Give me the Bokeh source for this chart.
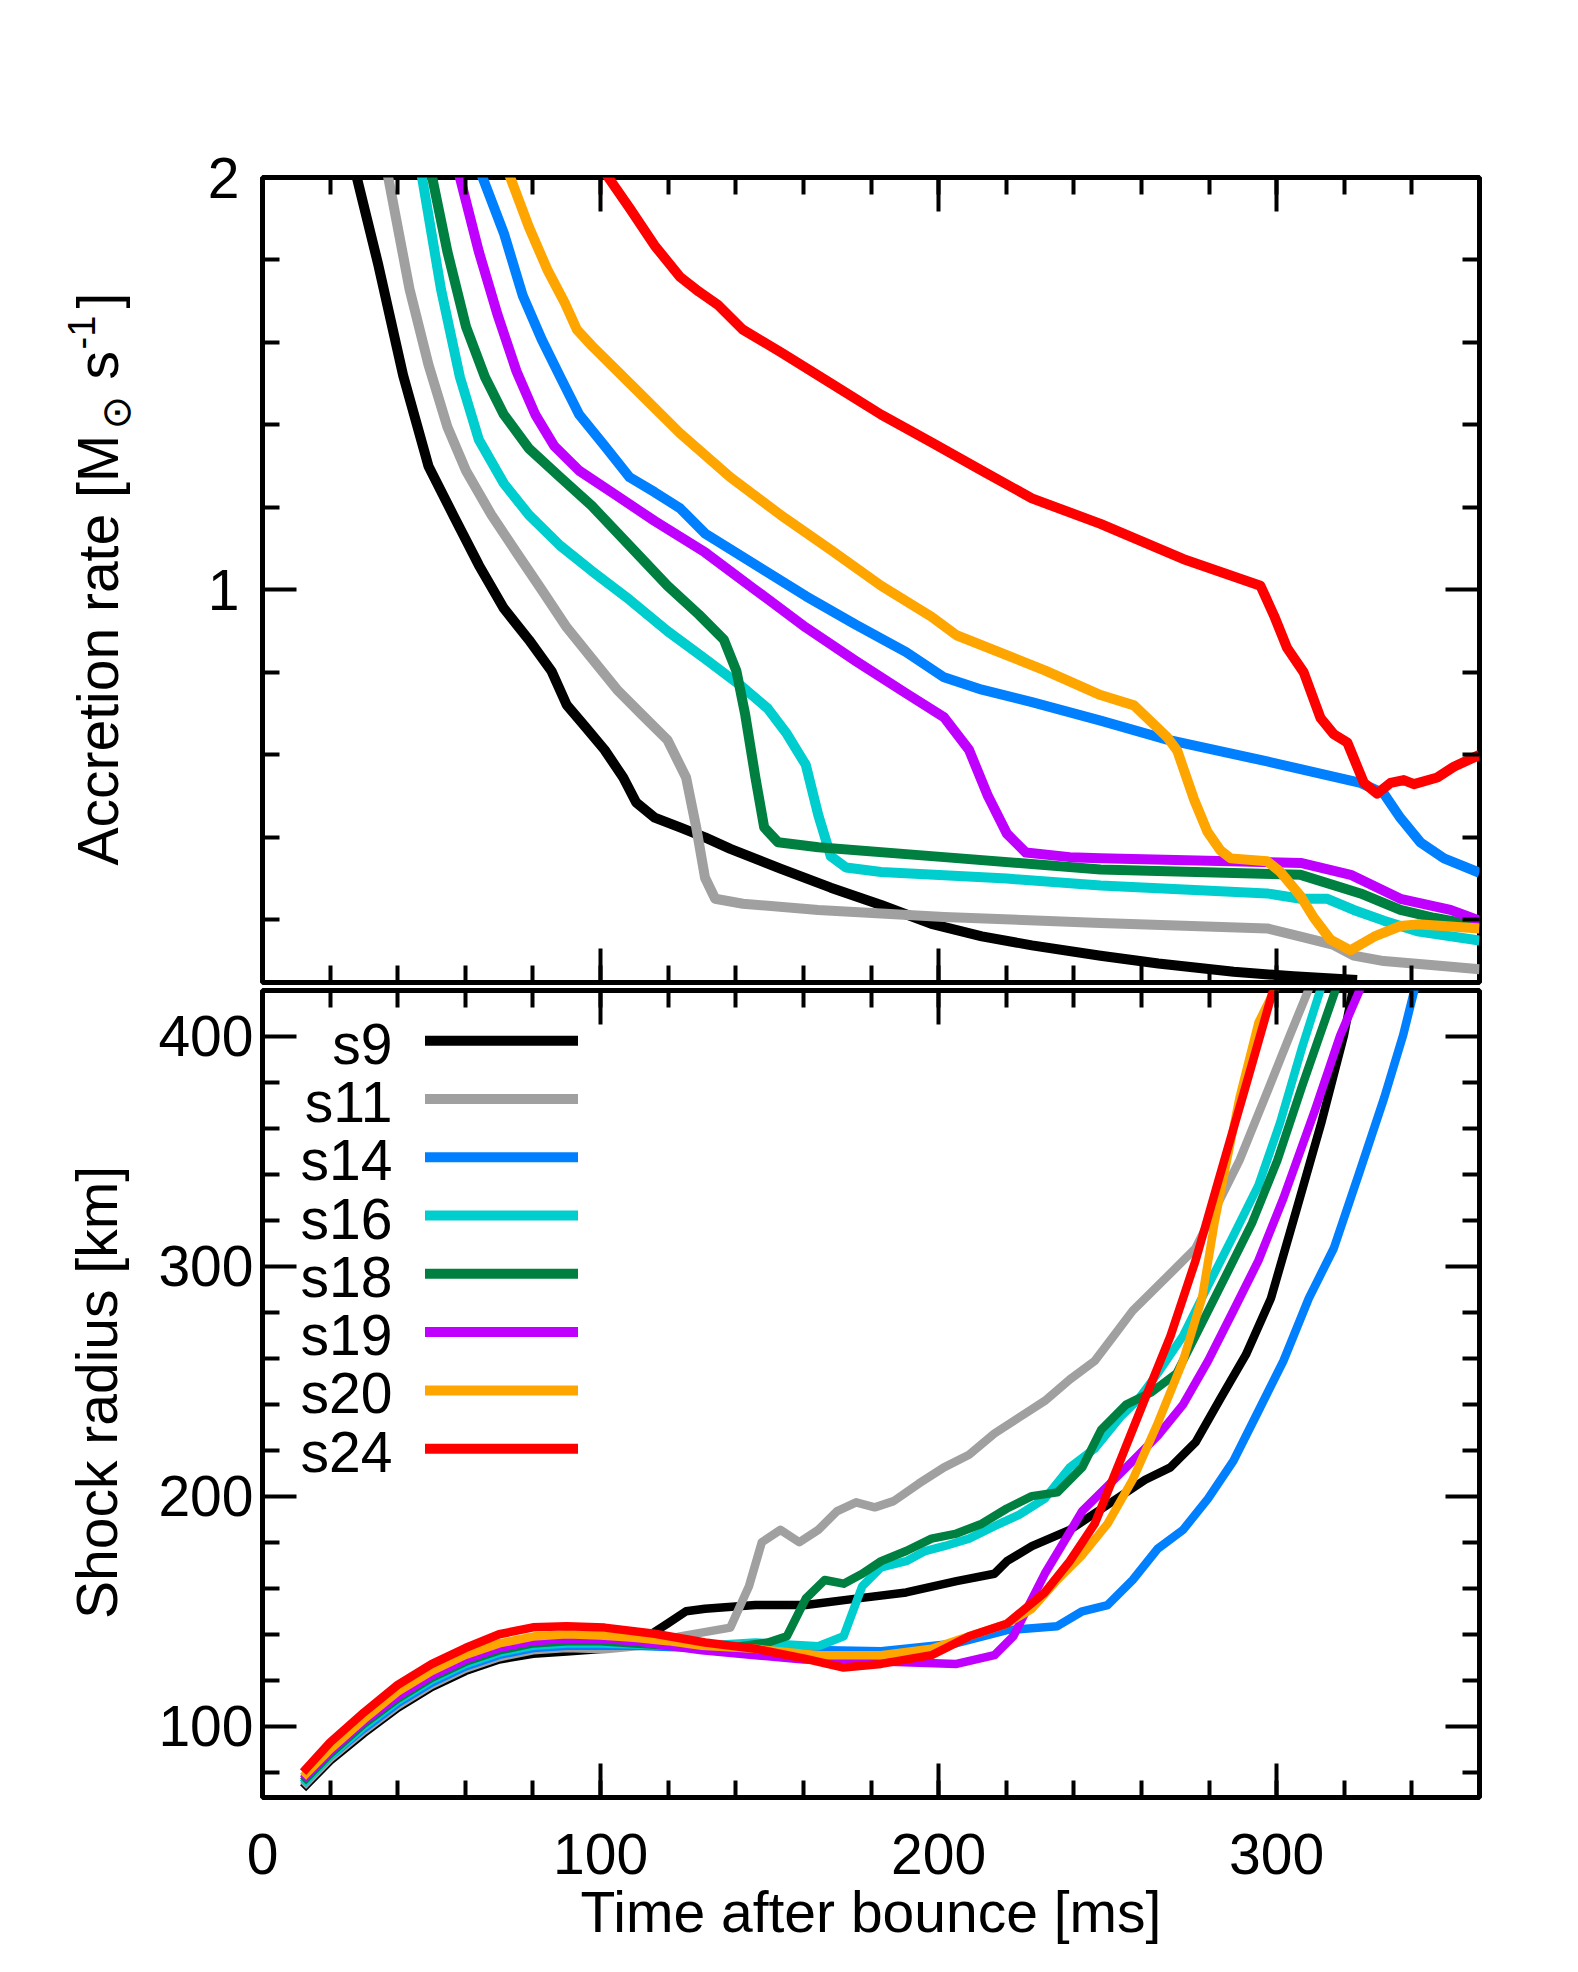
import math
from bokeh.plotting import figure
from bokeh.models import Range1d, LinearAxis, FixedTicker, ColumnDataSource, CustomLabelingPolicy
from bokeh.layouts import column, row
from bokeh.embed import file_html
from bokeh.resources import INLINE
from bokeh.core.properties import value

# ---------------- data ----------------
names = ["s9", "s11", "s14", "s16", "s18", "s19", "s20", "s24"]
colors = ["#000000", "#a0a0a0", "#0080ff", "#00cdcd", "#008040", "#c000ff", "#ffa500", "#ff0000"]

# Accretion rate [Msun/s] vs time after bounce [ms]
acc_s9_x = [24.3, 27.9, 34.2, 41.6, 49.1, 56.5, 64.0, 71.4, 78.8, 85.5, 90.0, 95.6, 101.2, 106.7, 110.5, 116.0, 123.5, 130.9, 138.4, 153.2, 168.1, 183.0, 197.9, 212.8, 227.6, 247.9, 265.0, 287.3, 305.0, 323.8]
acc_s9_y = [2.12, 2.0, 1.79, 1.52, 1.30, 1.18, 1.06, 0.955, 0.879, 0.803, 0.721, 0.667, 0.612, 0.545, 0.485, 0.448, 0.424, 0.400, 0.372, 0.324, 0.278, 0.236, 0.190, 0.160, 0.138, 0.113, 0.094, 0.074, 0.063, 0.054]

acc_s11_x = [34.9, 37.2, 43.5, 49.1, 54.7, 60.2, 67.7, 75.1, 82.6, 90.0, 97.4, 104.9, 112.3, 119.8, 125.3, 128.3, 130.9, 133.9, 142.1, 164.4, 201.6, 247.9, 297.2, 307.1, 316.9, 322.8, 331.7, 346.5, 360.0]
acc_s11_y = [2.1, 2.0, 1.729, 1.546, 1.395, 1.289, 1.182, 1.091, 1.0, 0.909, 0.834, 0.758, 0.697, 0.636, 0.545, 0.424, 0.302, 0.251, 0.239, 0.224, 0.207, 0.192, 0.179, 0.159, 0.139, 0.113, 0.100, 0.090, 0.080]

acc_s14_x = [60.4, 65.1, 71.4, 77.0, 82.6, 88.1, 93.7, 101.2, 108.6, 116.0, 123.5, 130.9, 145.8, 160.7, 175.6, 190.4, 201.6, 212.8, 227.6, 247.9, 267.6, 297.2, 324.8, 331.7, 336.6, 342.5, 349.5, 360.0]
acc_s14_y = [2.1, 2.0, 1.865, 1.713, 1.607, 1.516, 1.425, 1.349, 1.273, 1.237, 1.198, 1.137, 1.061, 0.985, 0.915, 0.849, 0.788, 0.758, 0.728, 0.683, 0.637, 0.584, 0.532, 0.506, 0.447, 0.388, 0.349, 0.314]

acc_s16_x = [45.1, 47.2, 52.8, 58.4, 64.0, 71.4, 78.8, 88.1, 97.4, 108.6, 119.8, 130.9, 142.1, 149.5, 155.1, 160.7, 164.4, 168.1, 172.6, 183.0, 220.2, 247.9, 297.2, 307.1, 315.0, 322.8, 331.7, 341.6, 360.0]
acc_s16_y = [2.1, 2.0, 1.729, 1.516, 1.364, 1.258, 1.182, 1.107, 1.046, 0.976, 0.900, 0.833, 0.764, 0.712, 0.651, 0.576, 0.454, 0.354, 0.327, 0.316, 0.300, 0.283, 0.264, 0.251, 0.251, 0.224, 0.198, 0.172, 0.150]

acc_s18_x = [47.7, 50.2, 54.7, 60.2, 65.8, 71.4, 78.8, 88.1, 97.4, 108.6, 119.8, 129.1, 136.5, 140.2, 142.8, 145.8, 148.4, 152.5, 164.4, 201.6, 247.9, 307.1, 324.8, 336.6, 346.5, 360.0]
acc_s18_y = [2.1, 2.0, 1.820, 1.638, 1.516, 1.425, 1.343, 1.273, 1.204, 1.107, 1.010, 0.940, 0.879, 0.803, 0.697, 0.545, 0.424, 0.388, 0.376, 0.352, 0.322, 0.309, 0.264, 0.224, 0.205, 0.185]

acc_s19_x = [55.3, 58.4, 64.0, 69.5, 75.1, 80.7, 86.3, 93.7, 104.9, 116.0, 130.9, 145.8, 160.7, 175.6, 190.4, 201.6, 209.0, 214.6, 220.2, 225.8, 238.8, 247.9, 307.1, 321.9, 336.6, 351.4, 360.0]
acc_s19_y = [2.1, 2.0, 1.820, 1.668, 1.531, 1.425, 1.349, 1.289, 1.228, 1.167, 1.091, 1.000, 0.909, 0.827, 0.749, 0.691, 0.612, 0.500, 0.409, 0.363, 0.352, 0.349, 0.338, 0.309, 0.251, 0.224, 0.198]

acc_s20_x = [68.7, 73.3, 78.8, 84.4, 89.3, 93.0, 97.4, 104.9, 112.3, 123.5, 138.4, 153.2, 168.1, 183.0, 197.9, 205.3, 231.4, 247.9, 257.8, 267.6, 270.6, 275.5, 279.5, 283.4, 286.4, 297.2, 301.1, 307.1, 311.0, 315.9, 321.8, 328.8, 336.6, 341.6, 360.0]
acc_s20_y = [2.1, 2.0, 1.880, 1.774, 1.698, 1.631, 1.592, 1.531, 1.471, 1.380, 1.273, 1.182, 1.097, 1.010, 0.935, 0.890, 0.805, 0.745, 0.720, 0.643, 0.610, 0.493, 0.414, 0.368, 0.349, 0.342, 0.316, 0.257, 0.205, 0.152, 0.126, 0.159, 0.185, 0.189, 0.179]

acc_s24_x = [97.2, 102.3, 108.6, 116.0, 123.5, 129.1, 134.6, 142.1, 153.2, 168.1, 183.0, 197.9, 212.8, 227.6, 247.9, 272.3, 295.2, 299.2, 303.1, 308.0, 313.0, 316.9, 320.9, 325.8, 329.7, 333.7, 337.6, 340.6, 347.5, 352.4, 360.0]
acc_s24_y = [2.06, 2.0, 1.926, 1.835, 1.759, 1.723, 1.692, 1.631, 1.577, 1.501, 1.425, 1.358, 1.289, 1.222, 1.160, 1.075, 1.010, 0.938, 0.859, 0.800, 0.689, 0.650, 0.630, 0.532, 0.506, 0.532, 0.539, 0.529, 0.545, 0.571, 0.600]

# Shock radius [km] vs time after bounce [ms]
rsh_s9_x = [12, 20, 30, 40, 50, 60, 70, 80, 90, 101.2, 112.3, 119.8, 125.3, 130.9, 145.8, 160.7, 175.6, 190.4, 205.3, 216.5, 220.2, 227.6, 238.8, 250.0, 261.1, 268.6, 276.0, 283.4, 290.9, 298.3, 305.8, 313.2, 319.9, 322.5, 325.0]
rsh_s9_y = [73, 85, 97, 108, 117, 124, 129, 131.5, 132.5, 133.7, 137.5, 144.6, 150.0, 151.1, 152.7, 152.7, 155.5, 158.2, 163.1, 166.3, 171.8, 178.3, 185.4, 196.3, 207.2, 212.6, 223.5, 242.6, 261.6, 286.1, 324.3, 362.4, 400.5, 420.0, 432.0]

rsh_s11_x = [12, 20, 30, 40, 50, 60, 70, 80, 90, 101.2, 112.0, 123.5, 138.4, 143.9, 147.7, 153.2, 158.8, 164.4, 170.0, 175.6, 181.1, 186.7, 194.2, 201.6, 209.0, 216.5, 223.9, 231.4, 238.8, 246.2, 251.8, 257.4, 263.0, 268.6, 276.0, 281.6, 289.0, 296.5, 303.9, 309.5, 312.0]
rsh_s11_y = [74, 86, 98, 109, 118, 125, 130, 133, 134, 133.5, 135, 139.1, 142.9, 160.9, 180.0, 185.4, 180.0, 185.4, 193.6, 197.4, 195.2, 197.9, 205.6, 212.6, 218.1, 227.3, 234.4, 241.5, 250.8, 258.9, 269.8, 280.7, 288.9, 297.0, 307.9, 324.3, 346.1, 373.3, 400.5, 420.6, 432.0]

rsh_s14_x = [12, 20, 30, 40, 50, 60, 70, 80, 90, 100, 110, 120, 130, 145.8, 183.0, 205.0, 220.2, 235.1, 242.5, 250.0, 257.4, 264.8, 272.3, 279.7, 287.2, 294.6, 302.0, 309.5, 316.9, 324.4, 331.8, 337.4, 340.8, 343.0]
rsh_s14_y = [75, 87, 99, 110, 119, 126, 131, 134, 135, 135, 135, 134.5, 134, 133.7, 132.6, 136, 141.8, 143.5, 150.0, 152.7, 163.6, 177.2, 185.4, 199.0, 215.4, 237.1, 258.9, 286.1, 307.9, 340.6, 373.3, 400.5, 420.6, 430.0]

rsh_s16_x = [12, 20, 30, 40, 50, 60, 70, 80, 90, 100, 110, 120, 130, 145.8, 164.4, 171.9, 177.4, 183.0, 190.4, 196.0, 201.6, 209.0, 216.5, 223.9, 231.4, 238.8, 246.2, 253.7, 259.3, 264.8, 272.3, 279.7, 287.2, 294.6, 301.0, 307.5, 313.0, 316.0]
rsh_s16_y = [75, 87, 100, 111, 120, 127, 132, 135, 136, 136, 135.5, 135, 135, 136.4, 134.8, 139.1, 160.9, 169.1, 171.8, 176.2, 178.3, 181.6, 187.0, 192.0, 199.0, 212.6, 220.8, 234.4, 242.6, 253.5, 269.8, 291.6, 313.4, 335.2, 362.4, 395.1, 420.6, 432.0]

rsh_s18_x = [12, 20, 30, 40, 50, 60, 70, 80, 90, 100, 110, 120, 130, 140, 149.5, 155.1, 160.7, 166.3, 171.9, 177.4, 183.0, 190.4, 197.9, 205.3, 212.8, 220.2, 227.6, 235.1, 242.5, 248.1, 255.5, 263.0, 270.4, 277.9, 285.3, 292.7, 300.2, 307.6, 317.5, 320.0]
rsh_s18_y = [76, 88, 101, 112, 121, 128, 133, 136, 137, 137, 136, 135, 134.5, 134.5, 136.4, 139.1, 155.5, 163.6, 162.0, 166.3, 171.8, 176.2, 181.6, 183.8, 188.1, 194.7, 200.1, 201.7, 212.6, 229.0, 239.9, 245.3, 253.5, 275.3, 297.0, 318.8, 346.1, 378.7, 420.6, 432.0]

rsh_s19_x = [12, 20, 30, 40, 50, 60, 70, 80, 90, 100, 110, 120, 130, 145.8, 160.0, 183.0, 205.3, 216.5, 222.1, 225.8, 231.4, 237.0, 242.5, 250.0, 257.4, 264.8, 272.3, 279.7, 287.2, 294.6, 302.0, 311.3, 318.8, 324.5, 327.0]
rsh_s19_y = [77, 89, 102, 113, 122, 129, 134, 137, 138, 138, 137, 135, 133, 130.9, 129, 128.2, 127.1, 130.9, 139.1, 150.0, 166.3, 180.0, 193.6, 204.5, 215.4, 226.3, 239.9, 258.9, 280.7, 302.5, 329.7, 367.8, 400.5, 420.0, 430.0]

rsh_s20_x = [12, 20, 30, 40, 50, 60, 70, 80, 90, 100, 110, 120, 130, 145.8, 164.4, 183.0, 197.9, 209.0, 220.2, 227.6, 235.1, 242.5, 250.0, 257.4, 264.8, 272.3, 277.9, 281.6, 285.3, 289.0, 294.6, 299.5, 301.5]
rsh_s20_y = [78, 90, 103, 115, 124, 131, 136, 139, 140, 139.5, 138.5, 137, 135, 133.7, 130.9, 130.9, 133.7, 139.1, 144.6, 151.1, 163.6, 174.5, 188.1, 207.2, 231.7, 258.9, 286.1, 318.8, 346.1, 373.3, 406.0, 420.6, 428.0]

rsh_s24_x = [12, 20, 30, 40, 50, 60, 70, 80, 90, 101.2, 116.0, 130.9, 145.8, 160.7, 171.9, 183.0, 197.9, 209.0, 220.2, 231.4, 238.8, 246.2, 253.7, 261.1, 268.6, 276.0, 283.4, 290.9, 298.3, 300.5]
rsh_s24_y = [80, 93, 106, 118, 127, 134, 140, 143, 143.5, 142.9, 140.2, 136.4, 133.7, 129.3, 125.5, 127.1, 130.9, 139.1, 144.6, 158.2, 171.8, 188.1, 215.4, 242.6, 269.8, 302.5, 340.6, 378.7, 416.8, 428.0]

x_major = [0, 100, 200, 300]
x_minor = [v for v in range(20, 360, 20)]
acc_major = [1, 2]
acc_minor = [0.2, 0.4, 0.6, 0.8, 1.2, 1.4, 1.6, 1.8]
rsh_major = [100, 200, 300, 400]
rsh_minor = [v for v in range(80, 420, 20) if v % 100 != 0]

acc_series = [(acc_s9_x, acc_s9_y), (acc_s11_x, acc_s11_y), (acc_s14_x, acc_s14_y), (acc_s16_x, acc_s16_y),
              (acc_s18_x, acc_s18_y), (acc_s19_x, acc_s19_y), (acc_s20_x, acc_s20_y), (acc_s24_x, acc_s24_y)]
rsh_series = [(rsh_s9_x, rsh_s9_y), (rsh_s11_x, rsh_s11_y), (rsh_s14_x, rsh_s14_y), (rsh_s16_x, rsh_s16_y),
              (rsh_s18_x, rsh_s18_y), (rsh_s19_x, rsh_s19_y), (rsh_s20_x, rsh_s20_y), (rsh_s24_x, rsh_s24_y)]

# ---------------- layout ----------------
FONT = "Liberation Sans"
FS = "57px"
LW = 150            # width of the y-label strip
W = 1410            # width of the plot column
PL = 262            # page x of frame left
ML = PL - LW
FW = 1217
MR = W - ML - FW
MT = 177
FH1 = 809
H1 = MT + FH1
FH2 = 811
MB = 175
H2 = FH2 + MB
HT = H1 + H2

X0, X1 = 0, 360
Y1A, Y1B = 0.048, 2.0
Y2A, Y2B = 69.0, 420.0
PT2 = H1


def fx(px):
    return X0 + (px - PL) * (X1 - X0) / FW


def fy2(py):
    return Y2B - (py - PT2) * (Y2B - Y2A) / FH2


shared_x = Range1d(X0, X1)
hide_all = CustomLabelingPolicy(code="for (const i of indices) { indices.unset(i) }\nreturn indices")


def make_fig(h, yr, mt, mb):
    p = figure(width=W, height=h, x_range=shared_x, y_range=yr,
               output_backend="svg", toolbar_location=None,
               x_axis_location=None, y_axis_location=None,
               min_border_left=ML, min_border_right=MR,
               min_border_top=mt, min_border_bottom=mb)
    p.grid.visible = False
    p.outline_line_color = "black"
    p.outline_line_width = 5
    p.background_fill_color = "white"
    p.border_fill_color = "white"
    return p


def add_axis(p, side, major, minor, labels, standoff):
    ax = LinearAxis(ticker=FixedTicker(ticks=major, minor_ticks=minor))
    ax.axis_line_color = None
    ax.major_tick_in = 34
    ax.major_tick_out = 0
    ax.minor_tick_in = 17
    ax.minor_tick_out = 0
    ax.major_tick_line_width = 4
    ax.minor_tick_line_width = 4
    ax.major_tick_line_color = "black"
    ax.minor_tick_line_color = "black"
    if labels:
        ax.major_label_overrides = {v: str(v) for v in major}
        ax.major_label_text_font = FONT
        ax.major_label_text_font_size = FS
        ax.major_label_text_color = "black"
        ax.major_label_standoff = standoff
    else:
        ax.major_label_policy = hide_all
        ax.major_label_text_font_size = "1px"
        ax.major_label_standoff = 0
    p.add_layout(ax, side)
    return ax


# top panel: accretion rate
p1 = make_fig(H1, Range1d(Y1A, Y1B), MT, 0)
add_axis(p1, "left", acc_major, acc_minor, True, 23)
add_axis(p1, "right", acc_major, acc_minor, False, 0)
add_axis(p1, "above", x_major, x_minor, False, 0)
add_axis(p1, "below", x_major, x_minor, False, 0)

for (xs, ys), c in zip(acc_series, colors):
    p1.line(xs, ys, line_color=c, line_width=10, line_join="round")

# bottom panel: shock radius
p2 = make_fig(H2, Range1d(Y2A, Y2B), 0, MB)
add_axis(p2, "left", rsh_major, rsh_minor, True, 9)
add_axis(p2, "right", rsh_major, rsh_minor, False, 0)
add_axis(p2, "above", x_major, x_minor, False, 0)
xb = add_axis(p2, "below", x_major, x_minor, True, 36)
xb.axis_label = "Time after bounce [ms]"
xb.axis_label_text_font = FONT
xb.axis_label_text_font_size = FS
xb.axis_label_text_font_style = "normal"
xb.axis_label_text_color = "black"
xb.axis_label_standoff = 3

for (xs, ys), c in zip(rsh_series, colors):
    p2.line(xs, ys, line_color=c, line_width=8.5, line_join="round")

# legend (label left of line)
row_py = [1036.5 + i * 58.56 for i in range(len(names))]
leg = ColumnDataSource(dict(
    x0=[fx(424.5)] * len(names),
    x1=[fx(577.5)] * len(names),
    y=[fy2(r) for r in row_py],
    ty=[fy2(r + 3) for r in row_py],
    tx=[fx(392)] * len(names),
    name=names,
    color=colors,
))
p2.segment(x0="x0", y0="y", x1="x1", y1="y", line_color="color", line_width=10, source=leg)
p2.text(x="tx", y="ty", text="name", text_align="right", text_baseline="middle",
        text_font=value(FONT), text_font_size=FS, text_color="black", source=leg)

# y-label strip (page pixel coordinates, y measured upward from the strip bottom)
lab = figure(width=LW, height=HT, x_range=Range1d(0, LW), y_range=Range1d(0, HT),
             output_backend="svg", toolbar_location=None,
             x_axis_location=None, y_axis_location=None,
             min_border_left=0, min_border_right=0, min_border_top=0, min_border_bottom=0)
lab.grid.visible = False
lab.outline_line_color = None
lab.background_fill_color = "white"
lab.border_fill_color = "white"

# (text, middle-line x, start y on page, font, size, align)
pieces = [
    ("Accretion rate [M", 97.3, 865, FONT, 57, "left"),
    ("\u2299", 115.2, 429, "DejaVu Sans", 40, "left"),
    ("s", 97.3, 379, FONT, 57, "left"),
    ("-1", 80.8, 349, FONT, 38, "left"),
    ("]", 97.3, 308, FONT, 57, "left"),
    ("Shock radius [km]", 96.3, 1392, FONT, 57, "center"),
]
for txt, mx, sy, fnt, fsz, al in pieces:
    lab.text(x=[mx], y=[HT - sy], text=[txt], angle=math.pi / 2,
             text_align=al, text_baseline="middle",
             text_font=value(fnt), text_font_size=value(f"{fsz}px"), text_color="black")

layout = row(lab, column(p1, p2, spacing=0), spacing=0)
open("out.html", "w").write(file_html(layout, INLINE))
